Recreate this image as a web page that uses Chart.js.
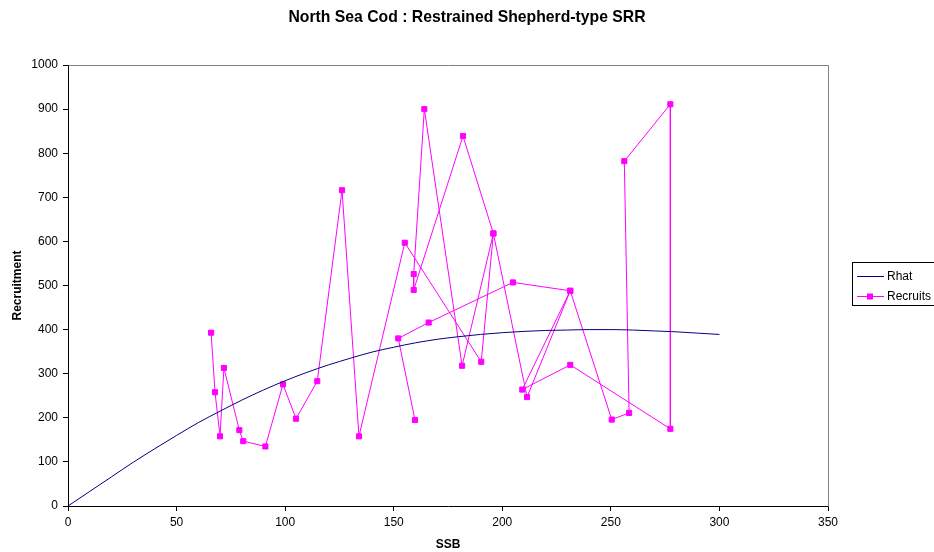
<!DOCTYPE html>
<html><head><meta charset="utf-8">
<script src="https://cdn.jsdelivr.net/npm/chart.js@4.4.1/dist/chart.umd.min.js"></script>
<style>html,body{margin:0;padding:0;background:#fff;overflow:hidden}#wrap{width:934px;height:552px;position:relative}</style>
</head><body><div id="wrap"><canvas id="c" width="934" height="552"></canvas></div>
<script>
const chartTitle = 'North Sea Cod : Restrained Shepherd-type SRR';
const xAxisTitle = 'SSB';
const yAxisTitle = 'Recruitment';
const seriesNames = ['Rhat', 'Recruits'];

// Rhat curve
const rhatSSB = [0,10,20,30,40,50,60,70,80,90,100,110,120,130,140,150,160,170,180,190,200,210,220,230,240,250,260,270,280,290,300];
const rhatValues = [0,33,66,99,130,160,189,215,240,263,284,303,320,335,349,360,370,378,384,389,393,396,398,399,400,400,399,397,395,392,389];

// Recruits (in drawing order)
const recruitsSSB = [159.8,152.1,166.1,204.9,231.3,250.4,258.4,256.2,277.4,277.4,231.3,209.2,231.3,211.4,195.9,181.5,164.1,159.2,159.2,181.9,195.9,190.3,155.1,134.0,126.2,114.8,105.0,99.0,90.9,80.7,78.9,71.8,70.0,67.7,65.9];
const recruitsValues = [195,380,416,507,488,196,211,782,911,175,320,264,488,247,618,318,900,526,490,839,618,327,597,158,716,283,198,276,135,147,172,313,158,258,393];

const FONT = "'Liberation Sans', Arial, sans-serif";
const rhatColor = '#000080';
const recColor = '#ff00ff';

const rhatData = rhatSSB.map((s,i)=>({x:s,y:rhatValues[i]}));
const recData = recruitsSSB.map((s,i)=>({x:s,y:recruitsValues[i]}));

const decor = {
  id:'decor',
  beforeDatasetsDraw(chart){
    const {ctx, chartArea:a} = chart;
    ctx.save();
    ctx.strokeStyle = '#808080'; ctx.lineWidth = 1;
    ctx.beginPath();
    ctx.moveTo(Math.round(a.left)+0.5, Math.round(a.top)+0.5);
    ctx.lineTo(Math.round(a.right)+0.5, Math.round(a.top)+0.5);
    ctx.lineTo(Math.round(a.right)+0.5, Math.round(a.bottom)+0.5);
    ctx.stroke();
    ctx.restore();
  },
  afterDraw(chart){
    const ctx = chart.ctx;
    ctx.save();
    ctx.fillStyle = '#000';
    ctx.font = 'bold 15.75px ' + FONT;
    ctx.textAlign = 'center'; ctx.textBaseline = 'middle';
    ctx.fillText(chartTitle, 467, 18);
    ctx.strokeStyle = '#000'; ctx.lineWidth = 1;
    ctx.strokeRect(852.5, 262.5, 100, 43);
    ctx.font = '12px ' + FONT;
    ctx.textAlign = 'left';
    const rows = [{y:276, c:rhatColor, m:false, t:seriesNames[0]},{y:296, c:recColor, m:true, t:seriesNames[1]}];
    rows.forEach(r=>{
      ctx.strokeStyle = r.c; ctx.lineWidth = 1;
      ctx.beginPath(); ctx.moveTo(857, r.y+0.5); ctx.lineTo(884, r.y+0.5); ctx.stroke();
      if (r.m){ ctx.fillStyle = r.c; ctx.fillRect(867, r.y-2.5, 6, 6); }
      ctx.fillStyle = '#000';
      ctx.fillText(r.t, 887, r.y+1);
    });
    ctx.restore();
  }
};

new Chart(document.getElementById('c'), {
  type:'scatter',
  data:{datasets:[
    {label:seriesNames[0], data:rhatData, showLine:true, borderColor:rhatColor, backgroundColor:rhatColor, borderWidth:1, pointRadius:0, tension:0.4, cubicInterpolationMode:'monotone'},
    {label:seriesNames[1], data:recData, showLine:true, borderColor:recColor, backgroundColor:recColor, borderWidth:1, pointRadius:3.6, pointStyle:'rect', pointBorderWidth:1, pointBorderColor:recColor, tension:0}
  ]},
  options:{
    responsive:false, animation:false, devicePixelRatio:1,
    layout:{padding:{top:65, right:106, left:0, bottom:0}},
    plugins:{legend:{display:false}, title:{display:false}, tooltip:{enabled:false}},
    scales:{
      x:{type:'linear', min:0, max:350,
        ticks:{stepSize:50, color:'#000', font:{family:FONT, size:12}, padding:4, maxRotation:0, callback:v=>String(v)},
        grid:{display:true, drawOnChartArea:false, drawTicks:true, tickLength:5, color:'#000'},
        border:{display:true, color:'#000', width:1},
        title:{display:true, text:xAxisTitle, color:'#000', font:{family:FONT, size:12, weight:'bold'}, padding:{top:0,bottom:0}},
        afterFit(s){ s.height = 46; }
      },
      y:{type:'linear', min:0, max:1000,
        ticks:{stepSize:100, color:'#000', font:{family:FONT, size:12}, padding:5, callback:v=>String(v)},
        grid:{display:true, drawOnChartArea:false, drawTicks:true, tickLength:5, color:'#000'},
        border:{display:true, color:'#000', width:1},
        title:{display:true, text:yAxisTitle, color:'#000', font:{family:FONT, size:12, weight:'bold'}, padding:{top:10,bottom:0}},
        afterFit(s){ s.width = 68; }
      }
    }
  },
  plugins:[decor]
});
</script>
</body></html>
